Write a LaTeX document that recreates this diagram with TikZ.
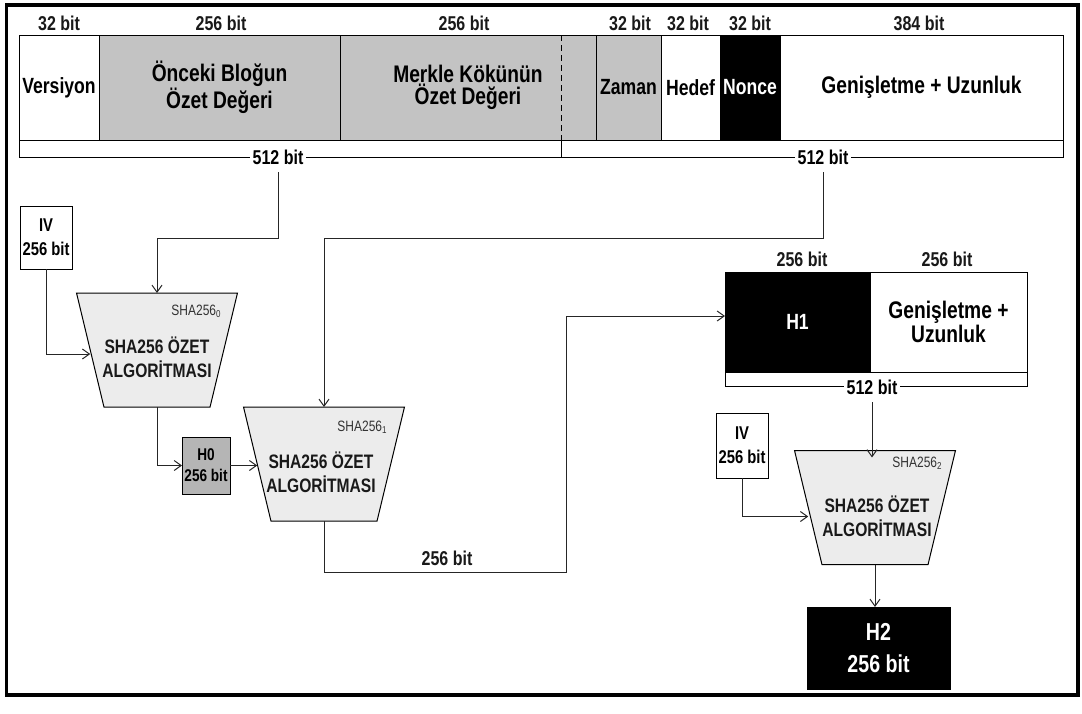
\documentclass[tikz,border=0pt]{standalone}
\usepackage{fontspec}
\setmainfont{Liberation Sans}[FakeStretch=0.8]
\usetikzlibrary{shapes.geometric,arrows.meta,calc}
\definecolor{cgray}{HTML}{C3C3C3}
\definecolor{tfill}{HTML}{ECECEC}
\definecolor{hgray}{HTML}{B5B5B5}
\definecolor{subc}{HTML}{333333}
\newcommand\myfBig{\fontsize{24}{28}\selectfont\bfseries}
\newcommand\myfMid{\fontsize{22}{25}\selectfont\bfseries}
\newcommand\myfBit{\fontsize{20}{23}\selectfont\bfseries}
\newcommand\myfTr{\fontsize{19.5}{24}\selectfont\bfseries}
\newcommand\myfIv{\fontsize{18.5}{24}\selectfont\bfseries}
\newcommand\myfHo{\fontsize{17}{21}\selectfont\bfseries}
\newcommand\myfHt{\fontsize{24.5}{32}\selectfont\bfseries}
\newcommand\myfSm{\fontsize{15}{15}\selectfont\mdseries}
\newcommand\mysub[1]{{\fontsize{10}{10}\selectfont\raisebox{-2pt}{#1}}}
\begin{document}
\begin{tikzpicture}[x=1pt,y=-1pt,
  every node/.style={inner sep=0pt, outer sep=0pt},
  cell/.style={draw=black, line width=1pt, anchor=north west, align=center},
  bitlbl/.style={font=\myfBit, text=black!90},
  strip/.style={draw=black, line width=1pt},
  splitlbl/.style={font=\myfBit, fill=white, inner xsep=3pt, inner ysep=1pt},
  conn/.style={draw=black!85, line width=1pt},
  arr/.style={conn, -{Straight Barb[length=7pt,width=10pt]}},
  trap/.style={trapezium, shape border rotate=180, trapezium left angle=75.5,
    trapezium right angle=75.5, trapezium stretches=true, inner sep=2pt,
    minimum width=161pt, minimum height=114pt, draw=black, line width=1pt, fill=tfill},
  traptxt/.style={font=\myfTr, align=center, text=black!90},
  sublbl/.style={font=\myfSm, text=subc},
  smallbox/.style={draw=black, line width=1pt, align=center}
]
\useasboundingbox (0,0) rectangle (1082,713);
% outer frame
\draw[line width=3.5pt] (6.5,5) rectangle (1078,695);

% header labels
\node[bitlbl] (h32a) at (59,23) {32 bit};
\node[bitlbl] (h256a) at (221,23) {256 bit};
\node[bitlbl] (h256b) at (464,23) {256 bit};
\node[bitlbl] (h32b) at (630,23) {32 bit};
\node[bitlbl] (h32c) at (688,23) {32 bit};
\node[bitlbl] (h32d) at (750,23) {32 bit};
\node[bitlbl] (h384) at (919,23) {384 bit};

% strip under the block header
\draw[strip] (19,140) rectangle (1063,157);
\draw[strip] (561,140) -- (561,157);

% cells
\node[cell, minimum width=80pt, minimum height=105pt, fill=white] (ver) at (19,35) {\myfMid Versiyon};
\node[cell, minimum width=241pt, minimum height=105pt, fill=cgray] (prev) at (99,35) {\myfBig Önceki Bloğun\\ \myfBig Özet Değeri};
\node[cell, minimum width=256pt, minimum height=105pt, fill=cgray] (merk) at (340,35) {\myfBig Merkle Kökünün\\ \myfBig Özet Değeri};
\node[cell, minimum width=65pt, minimum height=105pt, fill=cgray] (zaman) at (596,35) {\myfMid Zaman};
\node[cell, minimum width=59pt, minimum height=105pt, fill=white] (hedef) at (661,35) {\myfMid Hedef};
\node[cell, minimum width=60pt, minimum height=105pt, fill=black, text=white] (nonce) at (720,35) {\myfMid Nonce};
\node[cell, minimum width=283pt, minimum height=105pt, fill=white] (gen) at (780,35) {\myfBig Genişletme + Uzunluk};
\draw[line width=1pt, dash pattern=on 6pt off 4pt] (561,35) -- (561,140);

% 512 bit labels
\node[splitlbl] (b1) at (278,157) {512 bit};
\node[splitlbl] (b2) at (823,157) {512 bit};

% SHA blocks
\node[trap] (t0) at (157,350) {};
\node[traptxt] (t0txt) at (157,357) {SHA256 ÖZET\\ALGORİTMASI};
\node[sublbl] (t0sub) at (196,311) {SHA256\mysub{0}};

\node[trap] (t1) at (324,464) {};
\node[traptxt] (t1txt) at (321,472) {SHA256 ÖZET\\ALGORİTMASI};
\node[sublbl] (t1sub) at (362,427) {SHA256\mysub{1}};

\node[trap] (t2) at (875,507.5) {};
\node[traptxt] (t2txt) at (877,516) {SHA256 ÖZET\\ALGORİTMASI};
\node[sublbl] (t2sub) at (917,463) {SHA256\mysub{2}};

% IV boxes and H0
\node[smallbox, minimum width=52pt, minimum height=63pt, fill=white, font=\myfIv] (iv1) at (46,237.5) {IV\\256 bit};
\node[smallbox, minimum width=52pt, minimum height=65pt, fill=white, font=\myfIv] (iv2) at (742,445.5) {IV\\256 bit};
\node[smallbox, minimum width=48pt, minimum height=57pt, fill=hgray, font=\myfHo] (h0) at (206,465.5) {H0\\256 bit};

% second block: H1 + padding
\node[bitlbl] (h1h) at (802,259) {256 bit};
\node[bitlbl] (h1g) at (947,259) {256 bit};
\draw[strip] (725,372) rectangle (1027,386);
\node[cell, minimum width=145pt, minimum height=100pt, fill=black, text=white] (h1) at (725,272) {\myfMid H1};
\node[cell, minimum width=157pt, minimum height=100pt, fill=white] (pad) at (870,272) {\myfBig Genişletme +\\ \myfBig Uzunluk};
\node[splitlbl] (b3) at (872,387) {512 bit};

% H2
\node[smallbox, minimum width=143pt, minimum height=82pt, fill=black, text=white, font=\myfHt] (h2) at (878.5,648) {H2\\256 bit};

% route coordinates
\coordinate (k1) at (157,238);
\coordinate (k2) at (324,238);
\coordinate (k3) at (566,572);

% connectors
\draw[arr] ([yshift=-7pt]b1.south) |- (k1) -- (t0.north);
\draw[arr] ([yshift=-7pt]b2.south) |- (k2) -- (t1.north);
\draw[arr] (iv1.south) |- ([yshift=-4pt]t0.west);
\draw[arr] (t0.south) |- (h0.west);
\draw[arr] (h0.east) -- (h0.east -| t1.west);
\draw[arr] (t1.south) |- (k3) |- ([yshift=6pt]h1.west);
\node[bitlbl] (lbl256) at (447,558) {256 bit};
\draw[arr] ([yshift=-7pt]b3.south) -- ([yshift=-7pt]b3.south |- t2.north);
\draw[arr] (iv2.south) |- ([yshift=-9pt]t2.west);
\draw[arr] (t2.south) -- (t2.south |- h2.north);
\end{tikzpicture}
\end{document}
